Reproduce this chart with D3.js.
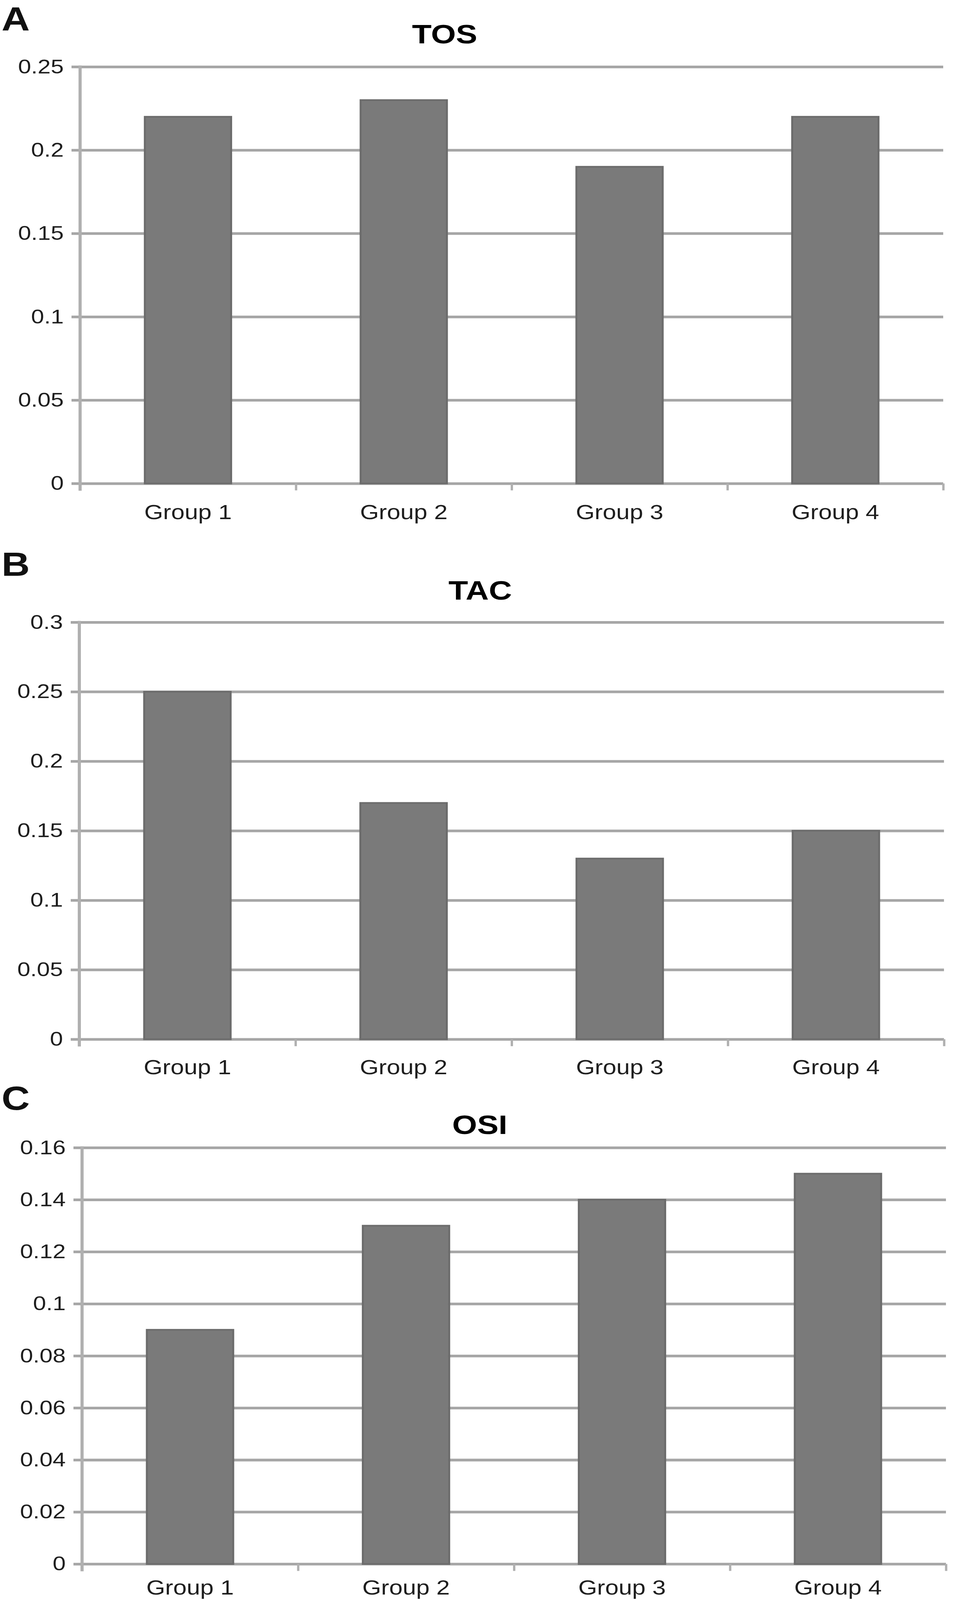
<!DOCTYPE html>
<html>
<head>
<meta charset="utf-8">
<script src="https://cdn.jsdelivr.net/npm/d3@7"></script>
<style>
  html, body { margin: 0; padding: 0; background: #fff; overflow: hidden; }
  #chart svg { display: block; width: 100vw; height: 100vh; }
</style>
</head>
<body>
<div id="chart"></div>
<script>
const groups = ["Group 1", "Group 2", "Group 3", "Group 4"];
const panelLetters = ["A", "B", "C"];
const titles = ["TOS", "TAC", "OSI"];

const tosValues = [0.22, 0.23, 0.19, 0.22];
const tacValues = [0.25, 0.17, 0.13, 0.15];
const osiValues = [0.09, 0.13, 0.14, 0.15];

const tosTicks = [0, 0.05, 0.1, 0.15, 0.2, 0.25];
const tacTicks = [0, 0.05, 0.1, 0.15, 0.2, 0.25, 0.3];
const osiTicks = [0, 0.02, 0.04, 0.06, 0.08, 0.1, 0.12, 0.14, 0.16];

const width = 2480;
const height = 4842;

// layout of the three stacked panels (pixels)
const layout = [
  { letterY: 92, titleX: 1138, titleY: 131, left: 205, right: 2414, top: 202, bottom: 1463, labelDy: 108 },
  { letterY: 1742, titleX: 1229, titleY: 1815, left: 203, right: 2416, top: 1883, bottom: 3145, labelDy: 106 },
  { letterY: 3358, titleX: 1228, titleY: 3432, left: 210, right: 2421, top: 3473, bottom: 4733, labelDy: 93 }
];

const panels = [
  { values: tosValues, ticks: tosTicks },
  { values: tacValues, ticks: tacTicks },
  { values: osiValues, ticks: osiTicks }
];

const gridColor = "#a6a6a6";
const axisColor = "#b0b0b0";
const barFill = "#7a7a7a";
const barStroke = "#6c6c6c";
const labelFont = "'Liberation Sans', Arial, sans-serif";

// the figure is stretched to fill the window
const svg = d3
  .create("svg")
  .attr("viewBox", [0, 0, width, height])
  .attr("preserveAspectRatio", "none")
  .style("background", "#fff");

panels.forEach((p, i) => {
  const L = layout[i];
  const g = svg.append("g");

  const y = d3
    .scaleLinear()
    .domain([0, d3.max(p.ticks)])
    .range([L.bottom, L.top]);

  const x = d3
    .scaleBand()
    .domain(groups)
    .range([L.left, L.right])
    .paddingInner(0.6)
    .paddingOuter(0.3);

  // category boundaries for the tick marks under the axis
  const xEdge = d3
    .scaleLinear()
    .domain([0, groups.length])
    .range([L.left, L.right]);

  // panel letter
  g.append("text")
    .attr("x", 4)
    .attr("y", L.letterY)
    .attr("font-family", labelFont)
    .attr("font-weight", 700)
    .attr("font-size", 100)
    .attr("fill", "#111")
    .text(panelLetters[i]);

  // title
  g.append("text")
    .attr("x", L.titleX)
    .attr("y", L.titleY)
    .attr("text-anchor", "middle")
    .attr("font-family", labelFont)
    .attr("font-weight", 700)
    .attr("font-size", 82)
    .attr("fill", "#000")
    .text(titles[i]);

  // horizontal grid lines
  g.append("g")
    .attr("transform", `translate(${L.left},0)`)
    .call(
      d3.axisLeft(y)
        .tickValues(p.ticks)
        .tickSize(-(L.right - L.left))
        .tickFormat("")
    )
    .call((a) => a.select(".domain").remove())
    .call((a) => a.selectAll(".tick line").attr("stroke", gridColor).attr("stroke-width", 8));

  // y axis tick marks + labels
  g.append("g")
    .attr("transform", `translate(${L.left},0)`)
    .call(
      d3.axisLeft(y)
        .tickValues(p.ticks)
        .tickSize(22)
        .tickPadding(20)
        .tickFormat((d) => String(d))
    )
    .call((a) => a.select(".domain").remove())
    .call((a) => a.selectAll(".tick line").attr("stroke", gridColor).attr("stroke-width", 8))
    .call((a) =>
      a.selectAll(".tick text")
        .attr("font-family", labelFont)
        .attr("font-size", 60)
        .attr("fill", "#1e1e1e")
    );

  // vertical axis line
  g.append("line")
    .attr("x1", L.left)
    .attr("x2", L.left)
    .attr("y1", y(d3.max(p.ticks)) - 4)
    .attr("y2", y(0) + 22)
    .attr("stroke", axisColor)
    .attr("stroke-width", 8);

  // tick marks at category boundaries
  g.append("g")
    .attr("transform", `translate(0,${y(0)})`)
    .call(
      d3.axisBottom(xEdge)
        .tickValues(d3.range(groups.length + 1))
        .tickSize(21)
        .tickFormat("")
    )
    .call((a) => a.select(".domain").remove())
    .call((a) => a.selectAll(".tick line").attr("stroke", axisColor).attr("stroke-width", 6));

  // bars
  g.append("g")
    .selectAll("rect")
    .data(p.values)
    .join("rect")
    .attr("x", (d, j) => x(groups[j]))
    .attr("y", (d) => y(d))
    .attr("width", x.bandwidth())
    .attr("height", (d) => y(0) - y(d))
    .attr("fill", barFill)
    .attr("stroke", barStroke)
    .attr("stroke-width", 5);

  // category labels
  g.append("g")
    .attr("transform", `translate(0,${y(0)})`)
    .call(d3.axisBottom(x).tickSize(0))
    .call((a) => a.select(".domain").remove())
    .call((a) =>
      a.selectAll(".tick text")
        .attr("y", L.labelDy)
        .attr("dy", null)
        .attr("font-family", labelFont)
        .attr("font-size", 62)
        .attr("fill", "#1e1e1e")
    );
});

document.getElementById("chart").append(svg.node());
</script>
</body>
</html>
